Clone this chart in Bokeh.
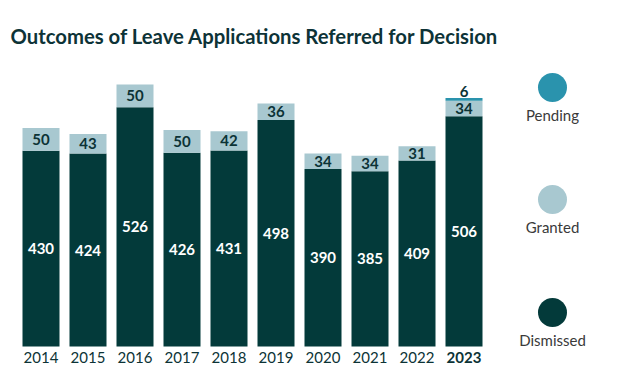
from bokeh.plotting import figure
from bokeh.models import ColumnDataSource, Range1d
from bokeh.core.properties import value
from bokeh.embed import file_html
from bokeh.resources import INLINE

years = ["2014", "2015", "2016", "2017", "2018", "2019", "2020", "2021", "2022", "2023"]
dismissed = [430, 424, 526, 426, 431, 498, 390, 385, 409, 506]
granted = [50, 43, 50, 50, 42, 36, 34, 34, 31, 34]
pending = [0, 0, 0, 0, 0, 0, 0, 0, 0, 6]
series_names = ["Pending", "Granted", "Dismissed"]
title_text = "Outcomes of Leave Applications Referred for Decision"

C_DIS = "#033a3a"
C_GRA = "#a8c8d0"
C_PEN = "#2a93ad"
C_TXT = "#0c3336"

W, H = 616, 368
ORIGIN = 0  # canvas offset on the page
# pixel geometry (page pixels) -> data coordinates
PX0, PXSTEP = 40.5, 47.0       # centre of first bar, spacing
BASE_PY, PX_PER_UNIT = 346.0, 0.455


def dx(px):
    return (px - PX0) / PXSTEP


def dy(py):
    return (BASE_PY - py) / PX_PER_UNIT


p = figure(width=W, height=H, output_backend="svg", toolbar_location=None,
           x_range=Range1d(dx(ORIGIN), dx(ORIGIN + W)),
           y_range=Range1d(dy(ORIGIN + H), dy(ORIGIN)),
           min_border=0, outline_line_color=None)
p.axis.visible = False
p.grid.visible = False
p.background_fill_color = "white"
p.border_fill_color = "white"

idx = list(range(len(years)))
g_top = [d + g for d, g in zip(dismissed, granted)]
p_top = [t + q for t, q in zip(g_top, pending)]

src = ColumnDataSource(dict(x=idx, dis=dismissed, gra=granted, pen=pending,
                            gtop=g_top, ptop=p_top, zero=[0] * len(idx),
                            dis_lab=[str(v) for v in dismissed],
                            gra_lab=[str(v) for v in granted],
                            dis_mid=[d / 2 for d in dismissed],
                            gra_mid=[d + g / 2 for d, g in zip(dismissed, granted)],
                            year=years))

bw = 37 / PXSTEP
p.vbar(x="x", bottom="zero", top="dis", width=bw, source=src, fill_color=C_DIS, line_color=None)
p.vbar(x="x", bottom="dis", top="gtop", width=bw, source=src, fill_color=C_GRA, line_color=None)
p.vbar(x="x", bottom="gtop", top="ptop", width=bw, source=src, fill_color=C_PEN, line_color=None)

lab_font = value("Lato")
p.text(x="x", y="dis_mid", text="dis_lab", source=src, text_color="white",
       text_font=lab_font, text_font_style="bold", text_font_size="15px",
       text_align="center", text_baseline="middle")
p.text(x="x", y="gra_mid", text="gra_lab", source=src, text_color=C_TXT,
       text_font=lab_font, text_font_style="bold", text_font_size="15px",
       text_align="center", text_baseline="middle")

# pending labels (only where non-zero)
pen_x = [i for i, v in zip(idx, pending) if v]
pen_y = [t + 7 / PX_PER_UNIT for t, v in zip(p_top, pending) if v]
pen_t = [str(v) for v in pending if v]
p.text(x=pen_x, y=pen_y, text=pen_t, text_color=C_TXT, text_font=lab_font,
       text_font_style="bold", text_font_size="15px", text_align="center",
       text_baseline="middle")

# year labels (last one bold)
yl_y = dy(357)
p.text(x=idx[:-1], y=[yl_y] * (len(idx) - 1), text=years[:-1], text_color=C_TXT,
       text_font=value("Lato"), text_font_size="15px", text_align="center",
       text_baseline="middle")
p.text(x=idx[-1:], y=[yl_y], text=years[-1:], text_color=C_TXT,
       text_font=value("Lato"), text_font_style="bold", text_font_size="15px",
       text_align="center", text_baseline="middle")

# title
p.text(x=[dx(10)], y=[dy(35)], text=[title_text], text_color="#0d3337",
       text_font=value("Lato"), text_font_style="bold", text_font_size="20.3px",
       text_align="left", text_baseline="middle")

# legend
lx = dx(552)
p.scatter(x=[lx] * 3, y=[dy(87), dy(199), dy(312)], size=29, marker="circle",
          fill_color=[C_PEN, C_GRA, C_DIS], line_color=None)
p.text(x=[lx] * 3, y=[dy(114), dy(226), dy(339)], text=series_names,
       text_color="#3a3a3a", text_font=value("Lato"), text_font_size="15px",
       text_align="center", text_baseline="middle")

open("out.html", "w").write(file_html(p, INLINE))
